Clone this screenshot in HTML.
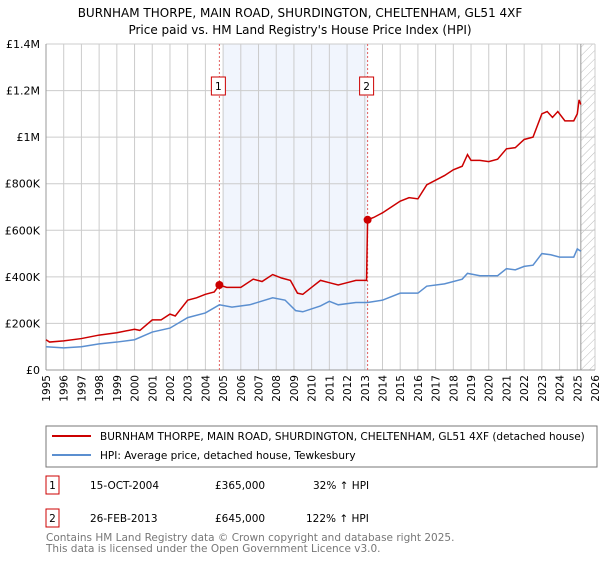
<!DOCTYPE html>
<html><head><meta charset="utf-8"><style>
body{margin:0;background:#fff;font-family:"DejaVu Sans","Liberation Sans",sans-serif;}
svg text{font-family:"DejaVu Sans","Liberation Sans",sans-serif;}
</style></head><body>
<svg id="chart" width="600" height="560" xmlns="http://www.w3.org/2000/svg">
<defs><pattern id="hatch" width="6" height="6" patternUnits="userSpaceOnUse" patternTransform="rotate(45)"><line x1="0" y1="0" x2="0" y2="6" stroke="#bbb" stroke-width="1"/></pattern></defs>
<text x="300" y="17" text-anchor="middle" font-size="12">BURNHAM THORPE, MAIN ROAD, SHURDINGTON, CHELTENHAM, GL51 4XF</text>
<text x="300" y="34" text-anchor="middle" font-size="12">Price paid vs. HM Land Registry's House Price Index (HPI)</text>
<g id="plot"></g>
<rect x="46" y="426" width="551" height="41" fill="#fff" stroke="#777"/>
<line x1="52" y1="436" x2="91" y2="436" stroke="#cc0000" stroke-width="2"/>
<text x="100" y="440" font-size="10.5">BURNHAM THORPE, MAIN ROAD, SHURDINGTON, CHELTENHAM, GL51 4XF (detached house)</text>
<line x1="52" y1="455" x2="91" y2="455" stroke="#5b8fd0" stroke-width="2"/>
<text x="100" y="459" font-size="10.5">HPI: Average price, detached house, Tewkesbury</text>
<g font-size="10.5">
<rect x="46" y="476" width="13" height="18" fill="#fff" stroke="#cc0000"/><text x="52.5" y="489" text-anchor="middle">1</text>
<text x="90" y="489">15-OCT-2004</text><text x="215" y="489">£365,000</text><text x="313" y="489">32% ↑ HPI</text></g>
<g font-size="10.5">
<rect x="46" y="509" width="13" height="18" fill="#fff" stroke="#cc0000"/><text x="52.5" y="522" text-anchor="middle">2</text>
<text x="90" y="522">26-FEB-2013</text><text x="215" y="522">£645,000</text><text x="306" y="522">122% ↑ HPI</text></g>
<text x="46" y="541" font-size="10.5" fill="#777">Contains HM Land Registry data © Crown copyright and database right 2025.</text>
<text x="46" y="552" font-size="10.5" fill="#777">This data is licensed under the Open Government Licence v3.0.</text>
</svg>
<script>
const redX=[1995,1995.2,1996,1997,1998,1999,2000,2000.3,2001,2001.5,2002,2002.3,2003,2003.5,2004,2004.5,2004.79,2005.2,2006,2006.7,2007.2,2007.8,2008.3,2008.8,2009.2,2009.5,2010,2010.5,2011,2011.5,2012,2012.5,2013.1,2013.16,2013.5,2014,2014.5,2015,2015.5,2016,2016.5,2017,2017.5,2018,2018.5,2018.8,2019,2019.5,2020,2020.5,2021,2021.5,2022,2022.5,2023,2023.3,2023.6,2023.9,2024.3,2024.8,2025,2025.1,2025.2];
const redY=[130,120,125,135,150,160,175,170,215,215,240,232,300,310,325,335,365,355,355,390,380,410,395,385,330,325,355,385,375,365,375,385,385,645,655,675,700,725,740,735,795,815,835,860,875,925,900,900,895,905,950,955,990,1000,1100,1110,1085,1110,1070,1070,1100,1160,1140];
const blueX=[1995,1996,1997,1998,1999,2000,2001,2002,2003,2004,2004.79,2005.5,2006.5,2007.8,2008.5,2009.1,2009.5,2010.5,2011,2011.5,2012.5,2013.16,2014,2015,2016,2016.5,2017.5,2018.5,2018.8,2019.5,2020.5,2021,2021.5,2022,2022.5,2023,2023.5,2024,2024.8,2025,2025.2];
const blueY=[100,95,100,112,120,130,163,180,225,245,280,270,280,310,300,255,250,275,295,280,290,290,300,330,330,360,370,390,415,405,405,435,430,445,450,500,495,485,485,520,510];
const saleX=[2004.79,2013.16];
const saleY=[365,645];
const yTicks=[0,200,400,600,800,1000,1200,1400];
const yTickLabels=["£0","£200K","£400K","£600K","£800K","£1M","£1.2M","£1.4M"];
const xTicks=[1995,1996,1997,1998,1999,2000,2001,2002,2003,2004,2005,2006,2007,2008,2009,2010,2011,2012,2013,2014,2015,2016,2017,2018,2019,2020,2021,2022,2023,2024,2025,2026];
const L=46,R=595,T=44,B=370;
const xs=v=>L+(v-1995)/31*(R-L);
const ys=v=>B-v/1400*(B-T);
const NS='http://www.w3.org/2000/svg';
const g=document.getElementById('plot');
function mk(t,a,p){const e=document.createElementNS(NS,t);for(const k in a)e.setAttribute(k,a[k]);(p||g).appendChild(e);return e;}
let sh=mk('rect',{x:xs(2005),y:T,width:xs(saleX[1])-xs(2005),height:B-T,fill:'#eef3fd',opacity:0.8});


let ht=mk('rect',{x:xs(2025.2),y:T,width:R-xs(2025.2),height:B-T,fill:'url(#hatch)'});


xTicks.forEach(v=>{const l=mk('line',{x1:xs(v),x2:xs(v),y1:T,y2:B,stroke:'#ccc'});


const tx=xs(v)+4, ty=375;
const t=mk('text',{x:tx,y:ty,'text-anchor':'end','font-size':'10.5',transform:'rotate(-90 '+tx+' '+ty+')'});t.textContent=v;

});
yTicks.forEach((v,i)=>{const l=mk('line',{x1:L,x2:R,y1:ys(v),y2:ys(v),stroke:'#ccc'});


const t=mk('text',{x:40,y:ys(v)+4,'text-anchor':'end','font-size':'11'});t.textContent=yTickLabels[i];

});
mk('line',{x1:xs(2025.2),x2:xs(2025.2),y1:T,y2:B,stroke:'#999'});
mk('line',{x1:L,x2:L,y1:T,y2:B,stroke:'#999'});
mk('line',{x1:L,x2:R,y1:B,y2:B,stroke:'#999'});
saleX.forEach((v,i)=>{const l=mk('line',{x1:xs(v),x2:xs(v),y1:T,y2:B,stroke:'#e06060','stroke-dasharray':'2,2'});


const bx=mk('rect',{x:xs(v)-8,y:77,width:14,height:18,fill:'#fff',stroke:'#cc0000'});


const t=mk('text',{x:xs(v)-1,y:90,'text-anchor':'middle','font-size':'10.5'});t.textContent=i+1;

});
function line(X,Y,c,n){const p=mk('polyline',{points:X.map((x,i)=>xs(x)+','+ys(Y[i])).join(' '),fill:'none',stroke:c,'stroke-width':1.5});

}
line(blueX,blueY,'#5b8fd0','hpi-line');
line(redX,redY,'#cc0000','property-price-line');
saleX.forEach((v,i)=>{const c=mk('circle',{cx:xs(v),cy:ys(saleY[i]),r:4,fill:'#cc0000'});

});
</script>
</body></html>
